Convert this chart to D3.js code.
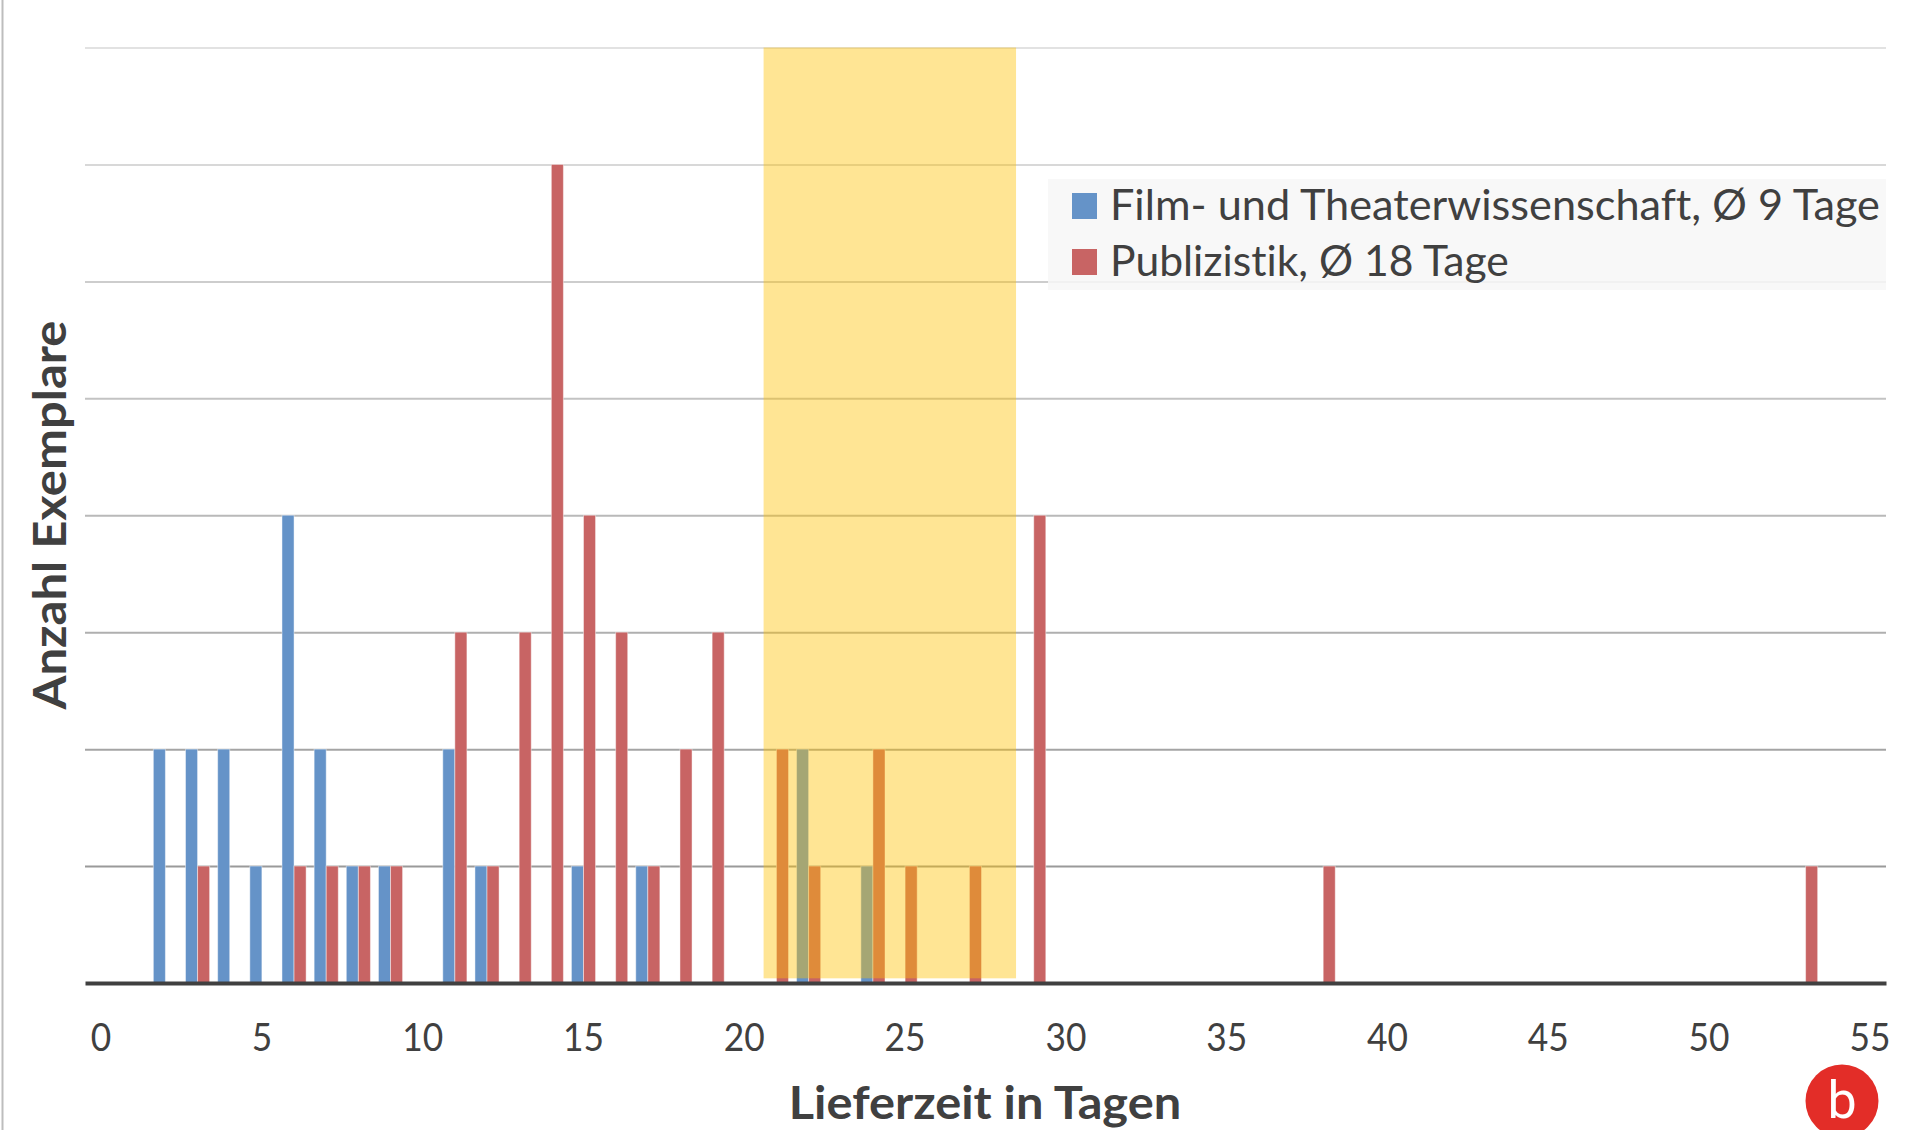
<!DOCTYPE html>
<html>
<head>
<meta charset="utf-8">
<script src="https://cdn.jsdelivr.net/npm/d3@7"></script>
<style>
  html, body { margin: 0; padding: 0; background: #ffffff; overflow: hidden; }
  text { font-family: Lato, sans-serif; fill: #404040; font-variant-ligatures: none; }
</style>
</head>
<body>
<div id="chart"></div>
<script>
const days = d3.range(0, 56);
const tickDays = [0, 5, 10, 15, 20, 25, 30, 35, 40, 45, 50, 55];
const countTicks = [1, 2, 3, 4, 5, 6, 7, 8];
const seriesNames = ["Film- und Theaterwissenschaft, Ø 9 Tage", "Publizistik, Ø 18 Tage"];
const filmDays = [2, 3, 4, 5, 6, 7, 8, 9, 11, 12, 15, 17, 22, 24];
const filmCounts = [2, 2, 2, 1, 4, 2, 1, 1, 2, 1, 1, 1, 2, 1];
const pubDays = [3, 6, 7, 8, 9, 11, 12, 13, 14, 15, 16, 17, 18, 19, 21, 22, 24, 25, 27, 29, 38, 53];
const pubCounts = [1, 1, 1, 1, 1, 3, 1, 3, 7, 4, 3, 1, 2, 3, 2, 1, 2, 1, 1, 4, 1, 1];
const highlightDays = [20.6, 28.45];
const highlightCounts = [0.04, 8];

const width = 1905, height = 1130;
const plot = {left: 85, right: 1886, top: 47.5, bottom: 983};
const colors = ["#6593c8", "#c86464"];

const svg = d3.select("#chart")
  .append("svg")
  .attr("width", width)
  .attr("height", height)
  .style("display", "block");

const x = d3.scaleBand().domain(days).range([plot.left, plot.right]);
const xInner = d3.scaleBand().domain(seriesNames).range([0, x.bandwidth()]).paddingOuter(1 / 3);
const y = d3.scaleLinear().domain([0, 8]).range([plot.bottom, plot.top]);
// continuous day position, for the highlighted span
const xDay = d3.scaleLinear()
  .domain([0, 55])
  .range([x(0) + x.bandwidth() / 2, x(55) + x.bandwidth() / 2]);

// stretch a text sideways to the width of the original font
function stretch(sel, sx) {
  sel.each(function() {
    const t = d3.select(this);
    const cx = +t.attr("x") || 0;
    t.attr("transform", `translate(${cx},0) scale(${sx},1) translate(${-cx},0)`);
  });
}

// frame line at the left page edge
svg.append("line")
  .attr("x1", 2.5).attr("x2", 2.5)
  .attr("y1", 0).attr("y2", height)
  .attr("stroke", "#bdbdbd")
  .attr("stroke-width", 2);

// Grid lines, lighter towards the top
const gridColor = d3.scaleLinear().domain([1, 8]).range(["#9a9a9a", "#e2e2e2"]);
const grid = svg.append("g")
  .attr("transform", `translate(${plot.left},0)`)
  .call(d3.axisLeft(y).tickValues(countTicks).tickSize(-(plot.right - plot.left)).tickFormat(""));
grid.select(".domain").remove();
grid.selectAll(".tick line")
  .attr("stroke", d => gridColor(d))
  .attr("stroke-width", 2);

// Bars
const series = [
  {name: seriesNames[0], days: filmDays, counts: filmCounts, color: colors[0]},
  {name: seriesNames[1], days: pubDays, counts: pubCounts, color: colors[1]}
];
series.forEach(s => {
  svg.append("g")
    .selectAll("rect")
    .data(s.days)
    .enter()
    .append("rect")
    .attr("x", d => x(d) + xInner(s.name))
    .attr("y", (d, i) => y(s.counts[i]))
    .attr("width", xInner.bandwidth())
    .attr("height", (d, i) => y(0) - y(s.counts[i]))
    .attr("fill", s.color)
    .attr("stroke", "#ffffff")
    .attr("stroke-opacity", 0.45)
    .attr("stroke-width", 1);
});

// Highlighted span on top of the bars
svg.append("rect")
  .attr("x", xDay(highlightDays[0]))
  .attr("y", y(highlightCounts[1]))
  .attr("width", xDay(highlightDays[1]) - xDay(highlightDays[0]))
  .attr("height", y(highlightCounts[0]) - y(highlightCounts[1]))
  .attr("fill", "#ffc000")
  .attr("fill-opacity", 0.42);

// X axis
const xAxis = svg.append("g")
  .attr("transform", `translate(0,${plot.bottom})`)
  .call(d3.axisBottom(x).tickValues(tickDays).tickSize(0).tickPadding(41));
xAxis.select(".domain")
  .attr("stroke", "#404040")
  .attr("stroke-width", 4);
xAxis.selectAll(".tick text")
  .style("font-family", "Lato, sans-serif")
  .style("font-size", "38px")
  .style("fill", "#404040")
  .attr("transform", "scale(0.93,1)");

// Axis titles
svg.append("text")
  .attr("transform", "translate(66,515) rotate(-90) scale(1.065,1)")
  .attr("text-anchor", "middle")
  .style("font-size", "46px")
  .style("font-weight", "700")
  .text("Anzahl Exemplare");

svg.append("text")
  .attr("x", 985)
  .attr("y", 1119)
  .attr("text-anchor", "middle")
  .style("font-size", "46px")
  .style("font-weight", "700")
  .text("Lieferzeit in Tagen")
  .call(stretch, 1.06);

// Legend
const legend = svg.append("g");
legend.append("rect")
  .attr("x", 1048).attr("y", 179)
  .attr("width", plot.right - 1048).attr("height", 111)
  .attr("fill", "#f7f7f7")
  .attr("fill-opacity", 0.85);
series.forEach((s, i) => {
  legend.append("rect")
    .attr("x", 1072).attr("y", 193 + i * 56)
    .attr("width", 25).attr("height", 26)
    .attr("fill", s.color);
  legend.append("text")
    .attr("x", 1110).attr("y", 220 + i * 56)
    .style("font-size", "42px")
    .text(s.name)
    .call(stretch, i === 0 ? 1.03 : 1.015);
});

// Panel badge
svg.append("circle")
  .attr("cx", 1842).attr("cy", 1101).attr("r", 36.5)
  .attr("fill", "#e32d28");
svg.append("text")
  .attr("x", 1842).attr("y", 1118)
  .attr("text-anchor", "middle")
  .style("font-family", "Roboto, sans-serif")
  .style("font-size", "52px")
  .style("fill", "#ffffff")
  .text("b");
</script>
</body>
</html>
